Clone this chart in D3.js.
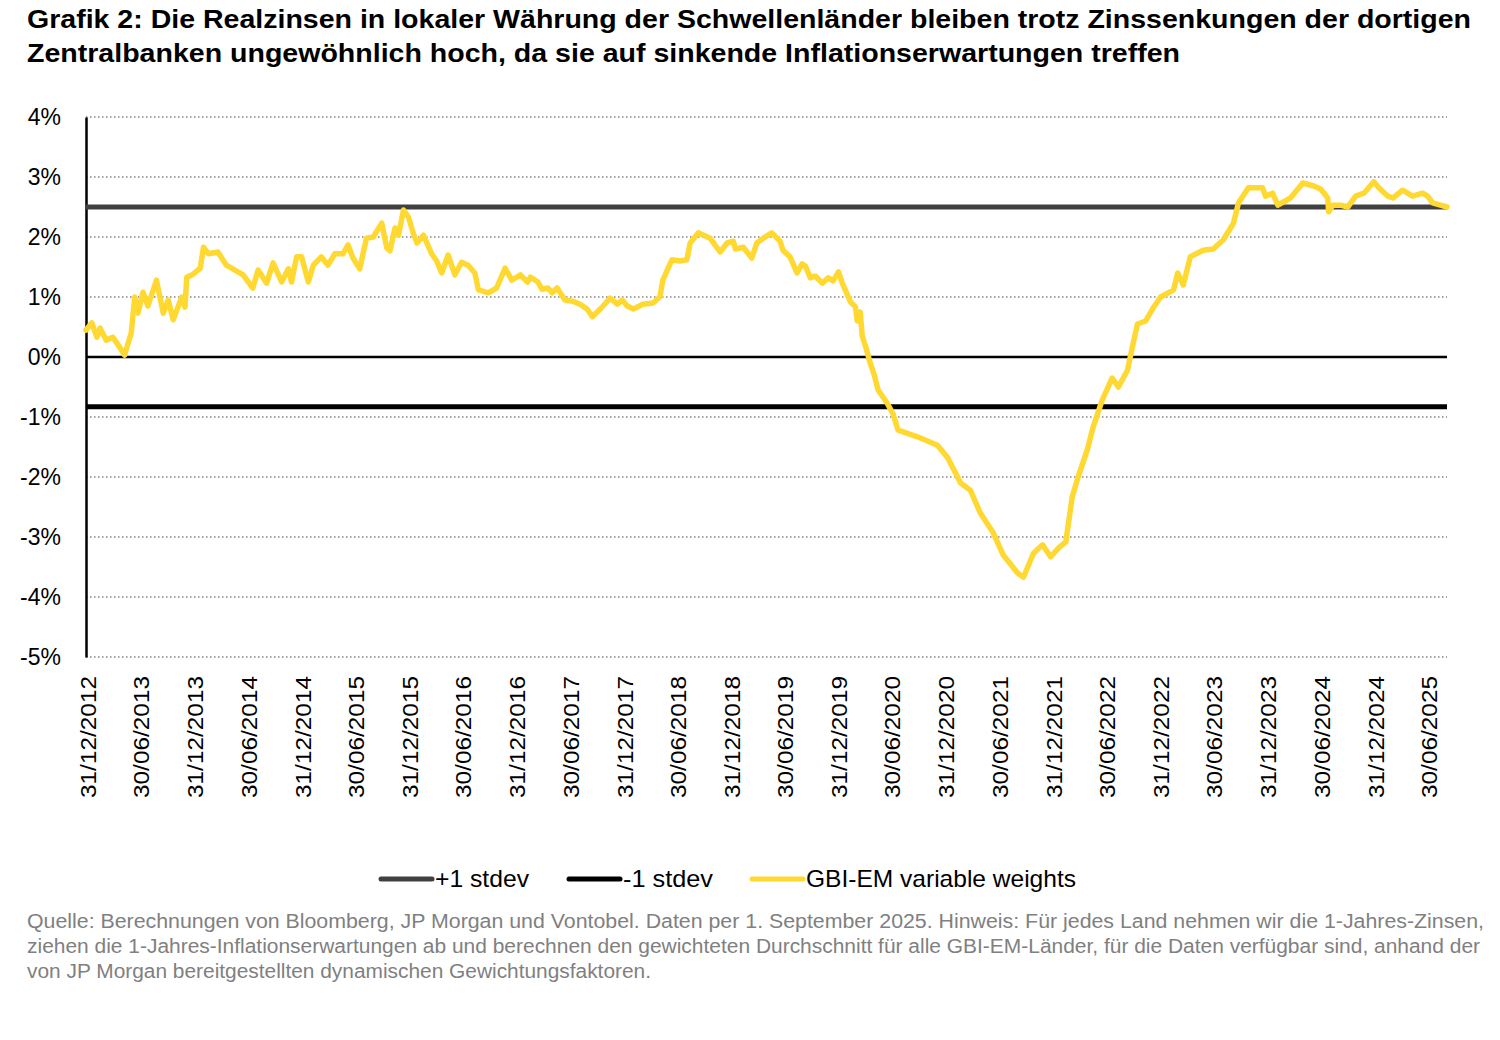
<!DOCTYPE html>
<html>
<head>
<meta charset="utf-8">
<script src="https://cdn.jsdelivr.net/npm/d3@7"></script>
<style>
  body { margin: 0; background: #fff; }
  text { font-family: Arial, "Liberation Sans", sans-serif; }
</style>
</head>
<body>
<svg id="chart"></svg>
<script>
const titleLines = [
  "Grafik 2: Die Realzinsen in lokaler Währung der Schwellenländer bleiben trotz Zinssenkungen der dortigen",
  "Zentralbanken ungewöhnlich hoch, da sie auf sinkende Inflationserwartungen treffen"
];
const footLines = [
  "Quelle: Berechnungen von Bloomberg, JP Morgan und Vontobel. Daten per 1. September 2025. Hinweis: Für jedes Land nehmen wir die 1-Jahres-Zinsen,",
  "ziehen die 1-Jahres-Inflationserwartungen ab und berechnen den gewichteten Durchschnitt für alle GBI-EM-Länder, für die Daten verfügbar sind, anhand der",
  "von JP Morgan bereitgestellten dynamischen Gewichtungsfaktoren."
];

// GBI-EM real rate series (in %)
const dates = [
  "2012-12-24","2013-01-13","2013-01-30","2013-02-10","2013-03-03","2013-03-25","2013-04-17","2013-05-04",
  "2013-05-27","2013-06-08","2013-06-19","2013-07-06","2013-07-23","2013-08-21","2013-09-13","2013-09-30",
  "2013-10-17","2013-11-15","2013-11-26","2013-12-02","2013-12-24","2014-01-17","2014-01-28","2014-02-14",
  "2014-03-18","2014-04-16","2014-05-08","2014-06-12","2014-07-15","2014-08-02","2014-08-31","2014-09-22",
  "2014-10-21","2014-11-13","2014-11-24","2014-12-11","2014-12-28","2015-01-20","2015-02-06","2015-03-05",
  "2015-03-28","2015-04-20","2015-05-18","2015-06-04","2015-06-21","2015-07-14","2015-08-06","2015-08-29",
  "2015-09-27","2015-10-14","2015-10-25","2015-11-11","2015-11-23","2015-12-10","2015-12-27","2016-01-13",
  "2016-01-25","2016-02-16","2016-03-15","2016-04-01","2016-04-18","2016-05-10","2016-06-02","2016-06-25",
  "2016-07-17","2016-08-09","2016-08-21","2016-09-24","2016-10-22","2016-11-20","2016-12-13","2017-01-11",
  "2017-02-04","2017-02-14","2017-03-12","2017-03-25","2017-04-15","2017-04-29","2017-05-16","2017-06-12",
  "2017-07-09","2017-08-02","2017-08-26","2017-09-13","2017-10-10","2017-11-13","2017-12-07","2017-12-24",
  "2018-01-10","2018-01-31","2018-03-04","2018-04-08","2018-05-01","2018-05-11","2018-06-11","2018-07-08",
  "2018-08-01","2018-08-12","2018-09-09","2018-10-19","2018-11-22","2018-12-16","2019-01-06","2019-01-13",
  "2019-02-09","2019-03-10","2019-03-27","2019-04-24","2019-05-17","2019-06-14","2019-06-24","2019-07-18",
  "2019-08-11","2019-08-28","2019-09-08","2019-09-25","2019-10-12","2019-11-05","2019-11-25","2019-12-12",
  "2019-12-30","2020-01-12","2020-02-09","2020-02-26","2020-03-03","2020-03-13","2020-03-20","2020-04-02",
  "2020-04-16","2020-04-30","2020-05-13","2020-06-13","2020-07-03","2020-07-20","2020-09-24","2020-10-28",
  "2020-12-01","2021-01-05","2021-02-18","2021-03-23","2021-04-26","2021-06-09","2021-07-13","2021-08-31",
  "2021-09-20","2021-10-24","2021-11-24","2021-12-21","2022-01-18","2022-02-11","2022-03-05","2022-03-25",
  "2022-04-25","2022-05-15","2022-06-15","2022-07-19","2022-08-09","2022-09-09","2022-09-26","2022-10-13",
  "2022-11-10","2022-12-07","2022-12-31","2023-02-13","2023-02-27","2023-03-18","2023-04-11","2023-05-25",
  "2023-06-28","2023-08-01","2023-09-05","2023-09-22","2023-10-26","2023-12-13","2023-12-23","2024-01-16",
  "2024-02-03","2024-03-17","2024-04-28","2024-06-04","2024-06-28","2024-07-22","2024-07-25","2024-08-08",
  "2024-09-04","2024-09-28","2024-10-25","2024-11-22","2024-12-26","2025-01-12","2025-02-12","2025-03-01",
  "2025-04-03","2025-04-20","2025-05-07","2025-06-10","2025-06-27","2025-07-14","2025-08-10","2025-09-01"
];
const gbiEm = [
  0.45, 0.57, 0.33, 0.48, 0.28, 0.33, 0.17, 0.03,
  0.40, 1.00, 0.73, 1.08, 0.85, 1.28, 0.73, 0.95,
  0.62, 1.00, 0.83, 1.33, 1.38, 1.48, 1.83, 1.72,
  1.75, 1.53, 1.47, 1.37, 1.15, 1.45, 1.23, 1.57,
  1.25, 1.47, 1.25, 1.67, 1.67, 1.25, 1.53, 1.67,
  1.53, 1.72, 1.72, 1.87, 1.65, 1.47, 1.98, 2.00,
  2.23, 1.82, 1.77, 2.15, 2.03, 2.45, 2.33, 2.05,
  1.90, 2.03, 1.72, 1.60, 1.40, 1.70, 1.37, 1.58,
  1.53, 1.40, 1.12, 1.07, 1.15, 1.48, 1.28, 1.37,
  1.25, 1.33, 1.25, 1.13, 1.15, 1.07, 1.15, 0.95,
  0.93, 0.88, 0.80, 0.67, 0.80, 0.98, 0.88, 0.95,
  0.85, 0.80, 0.88, 0.90, 1.00, 1.28, 1.62, 1.60,
  1.62, 1.90, 2.07, 1.98, 1.75, 1.90, 1.93, 1.80,
  1.83, 1.65, 1.90, 2.00, 2.07, 1.93, 1.78, 1.67,
  1.40, 1.55, 1.52, 1.32, 1.35, 1.23, 1.32, 1.27,
  1.42, 1.23, 0.92, 0.83, 0.60, 0.75, 0.35, 0.15,
  -0.10, -0.30, -0.55, -0.77, -0.95, -1.22, -1.33, -1.40,
  -1.47, -1.68, -2.10, -2.22, -2.60, -2.93, -3.30, -3.60,
  -3.67, -3.27, -3.13, -3.33, -3.18, -3.08, -2.33, -2.00,
  -1.55, -1.17, -0.72, -0.35, -0.50, -0.22, 0.17, 0.55,
  0.60, 0.83, 1.00, 1.12, 1.40, 1.20, 1.67, 1.78,
  1.80, 1.95, 2.23, 2.57, 2.82, 2.82, 2.68, 2.73,
  2.53, 2.65, 2.90, 2.85, 2.80, 2.65, 2.42, 2.53,
  2.53, 2.50, 2.68, 2.73, 2.92, 2.82, 2.68, 2.65,
  2.78, 2.73, 2.68, 2.73, 2.68, 2.57, 2.53, 2.50
];

// +/- 1 standard deviation bands (constant)
const plusStdev = 2.5;
const minusStdev = -0.83;

const tickDates = [
  "2012-12-31","2013-06-30","2013-12-31","2014-06-30","2014-12-31","2015-06-30","2015-12-31",
  "2016-06-30","2016-12-31","2017-06-30","2017-12-31","2018-06-30","2018-12-31","2019-06-30",
  "2019-12-31","2020-06-30","2020-12-31","2021-06-30","2021-12-31","2022-06-30","2022-12-31",
  "2023-06-30","2023-12-31","2024-06-30","2024-12-31","2025-06-30"
];
const yTicks = [4, 3, 2, 1, 0, -1, -2, -3, -4, -5];

const legendItems = [
  { label: "+1 stdev", color: "#404040" },
  { label: "-1 stdev", color: "#000000" },
  { label: "GBI-EM variable weights", color: "#ffd932" }
];

const width = 1500, height = 1040;
const plot = { left: 86, right: 1447, top: 117, bottom: 657 };
const parse = d3.timeParse("%Y-%m-%d");
const fmt = d3.timeFormat("%d/%m/%Y");

const series = dates.map((d, i) => ({ date: parse(d), value: gbiEm[i] }));

const svg = d3.select("#chart")
  .attr("width", width)
  .attr("height", height)
  .attr("viewBox", `0 0 ${width} ${height}`);

svg.append("rect").attr("width", width).attr("height", height).attr("fill", "#fff");

// title (source text is wider than Arial, so stretch to the measured widths)
const titleWidths = [1444, 1153];
svg.append("g").selectAll("text")
  .data(titleLines)
  .join("text")
  .attr("x", 27)
  .attr("y", (d, i) => 28 + i * 34)
  .attr("textLength", (d, i) => titleWidths[i])
  .attr("lengthAdjust", "spacingAndGlyphs")
  .style("font-size", "25px")
  .style("font-weight", "bold")
  .style("fill", "#000")
  .text(d => d);

const x = d3.scaleTime()
  .domain([parse(dates[0]), parse(dates[dates.length - 1])])
  .range([plot.left, plot.right]);

const y = d3.scaleLinear()
  .domain([-5, 4])
  .range([plot.bottom, plot.top]);

// dotted gridlines
svg.append("g").selectAll("line")
  .data(yTicks.filter(d => d !== 0))
  .join("line")
  .attr("x1", plot.left)
  .attr("x2", plot.right)
  .attr("y1", d => y(d))
  .attr("y2", d => y(d))
  .attr("stroke", "#444")
  .attr("stroke-width", 1.2)
  .attr("stroke-dasharray", "1.5,2.5");

// y axis
const yAxis = svg.append("g")
  .attr("transform", `translate(${plot.left},0)`)
  .call(d3.axisLeft(y).tickValues(yTicks).tickSize(0).tickPadding(25).tickFormat(d => d + "%"));
yAxis.select(".domain").attr("stroke", "#000").attr("stroke-width", 2.5);
yAxis.selectAll("text")
  .style("font-size", "23px")
  .style("fill", "#000")
  .style("font-family", "Arial, 'Liberation Sans', sans-serif");

// x axis labels (rotated)
const xAxis = svg.append("g")
  .attr("transform", `translate(0,${plot.bottom})`)
  .call(d3.axisBottom(x).tickValues(tickDates.map(parse)).tickSize(0).tickFormat(fmt));
xAxis.select(".domain").remove();
xAxis.selectAll("text")
  .attr("transform", "rotate(-90)")
  .attr("x", -19)
  .attr("y", 0)
  .attr("dy", "0.35em")
  .attr("textLength", 122)
  .attr("lengthAdjust", "spacingAndGlyphs")
  .style("text-anchor", "end")
  .style("font-size", "22px")
  .style("fill", "#000")
  .style("font-family", "Arial, 'Liberation Sans', sans-serif");

const line = d3.line()
  .x(d => x(d.date))
  .y(d => y(d.value));

const ends = [parse(dates[0]), parse(dates[dates.length - 1])];

// zero line
svg.append("path")
  .datum(ends.map(d => ({ date: d, value: 0 })))
  .attr("d", line)
  .attr("fill", "none")
  .attr("stroke", "#000")
  .attr("stroke-width", 2.5);

// -1 stdev
svg.append("path")
  .datum(ends.map(d => ({ date: d, value: minusStdev })))
  .attr("d", line)
  .attr("fill", "none")
  .attr("stroke", legendItems[1].color)
  .attr("stroke-width", 5);

// +1 stdev
svg.append("path")
  .datum(ends.map(d => ({ date: d, value: plusStdev })))
  .attr("d", line)
  .attr("fill", "none")
  .attr("stroke", legendItems[0].color)
  .attr("stroke-width", 5);

// GBI-EM
svg.append("path")
  .datum(series)
  .attr("d", line)
  .attr("fill", "none")
  .attr("stroke", legendItems[2].color)
  .attr("stroke-width", 5.5)
  .attr("stroke-linejoin", "round")
  .attr("stroke-linecap", "round");

// legend
const legendX = [379, 567, 750];
const legendTextW = [94, 90, 270];
const legend = svg.append("g").attr("transform", "translate(0,879)");
const items = legend.selectAll("g")
  .data(legendItems)
  .join("g")
  .attr("transform", (d, i) => `translate(${legendX[i]},0)`);
items.append("line")
  .attr("x1", 2).attr("x2", 53)
  .attr("stroke", d => d.color)
  .attr("stroke-width", 5)
  .attr("stroke-linecap", "round");
items.append("text")
  .attr("x", 56)
  .attr("dy", "0.35em")
  .attr("textLength", (d, i) => legendTextW[i])
  .attr("lengthAdjust", "spacingAndGlyphs")
  .style("font-size", "24px")
  .style("fill", "#000")
  .text(d => d.label);

// footnote
const footWidths = [1457, 1453, 624];
svg.append("g").selectAll("text")
  .data(footLines)
  .join("text")
  .attr("x", 27)
  .attr("y", (d, i) => 928 + i * 25)
  .attr("textLength", (d, i) => footWidths[i])
  .attr("lengthAdjust", "spacingAndGlyphs")
  .style("font-size", "20px")
  .style("fill", "#808080")
  .text(d => d);
</script>
</body>
</html>
